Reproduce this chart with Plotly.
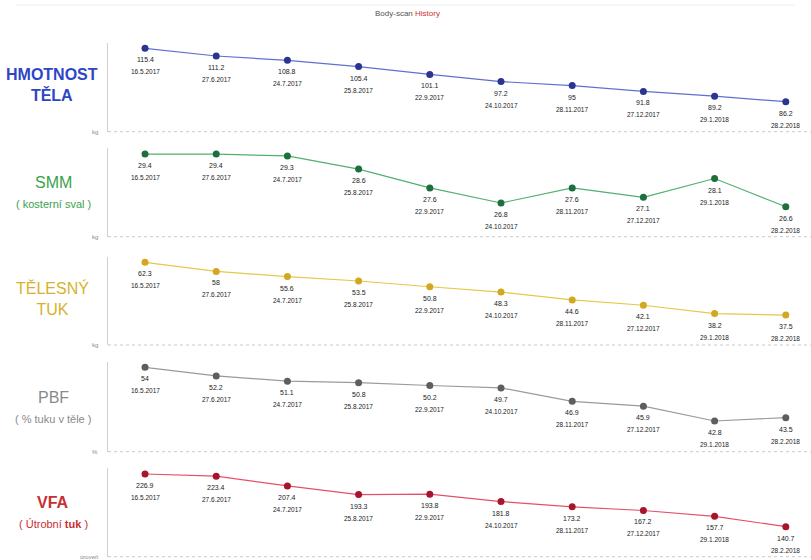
import plotly.graph_objects as go

dates = ["16.5.2017", "27.6.2017", "24.7.2017", "25.8.2017", "22.9.2017",
         "24.10.2017", "28.11.2017", "27.12.2017", "29.1.2018", "28.2.2018"]

weight = [115.4, 111.2, 108.8, 105.4, 101.1, 97.2, 95, 91.8, 89.2, 86.2]
smm = [29.4, 29.4, 29.3, 28.6, 27.6, 26.8, 27.6, 27.1, 28.1, 26.6]
fat = [62.3, 58, 55.6, 53.5, 50.8, 48.3, 44.6, 42.1, 38.2, 37.5]
pbf = [54, 52.2, 51.1, 50.8, 50.2, 49.7, 46.9, 45.9, 42.8, 43.5]
vfa = [226.9, 223.4, 207.4, 193.3, 193.8, 181.8, 173.2, 167.2, 157.7, 140.7]

series = [weight, smm, fat, pbf, vfa]
units = ["kg", "kg", "kg", "%", "úroveň"]
titles = [("<b>HMOTNOST<br>TĚLA</b>", None),
          ("SMM", "( kosterní sval )"),
          ("TĚLESNÝ<br>TUK", None),
          ("PBF", "( % tuku v těle )"),
          ("<b>VFA</b>", "( Útrobní <b>tuk</b> )")]
marker_colors = ["#2b3590", "#1f6e3e", "#d2a820", "#5e5e5e", "#a8142a"]
line_colors = ["#6070d0", "#50b070", "#e6c84a", "#9a9a9a", "#e4506a"]
title_colors = ["#2f45c8", "#3aa24c", "#d6b22c", "#8a8a8a", "#c83030"]

W, H = 811, 560
baselines = [131.7, 236.7, 345, 451.7, 556.7]
tops = [43, 148, 257, 362, 468]
yranges = [[69.8, 118.3], [25.01, 29.72], [23.4, 64.8], [36.4, 55.1], [91.6, 236.7]]
xleft = 108

fig = go.Figure()
layout = dict(width=W, height=H, margin=dict(l=0, r=0, t=0, b=0),
              plot_bgcolor="white", paper_bgcolor="white", showlegend=False,
              font=dict(family="Liberation Sans, Arial, sans-serif"))
annotations = []
shapes = []
idx = list(range(len(dates)))

for k, vals in enumerate(series):
    n = "" if k == 0 else str(k + 1)
    xa, ya = "x" + n, "y" + n
    fig.add_trace(go.Scatter(
        x=idx, y=vals, xaxis=xa, yaxis=ya, mode="lines+markers",
        line=dict(color=line_colors[k], width=1.2),
        marker=dict(color=marker_colors[k], size=7),
        hoverinfo="skip"))
    dom = [1 - baselines[k] / H, 1 - tops[k] / H]
    layout["xaxis" + n] = dict(domain=[xleft / W, 1], range=[-0.52, 9.354],
                              anchor=ya, showgrid=False, zeroline=False,
                              showticklabels=False, ticks="", showline=False)
    layout["yaxis" + n] = dict(domain=dom, range=yranges[k], anchor=xa,
                              showgrid=False, zeroline=False, showticklabels=False,
                              ticks="", showline=True, linecolor="#d0d0d0", linewidth=1)
    shapes.append(dict(type="line", xref="paper", x0=xleft / W, x1=1,
                       yref=ya + " domain", y0=0, y1=0,
                       line=dict(color="#c8c8c8", width=1, dash="dot")))
    for i, v in enumerate(vals):
        annotations.append(dict(x=i, y=v, xref=xa, yref=ya, text=f"{v:g}",
                                showarrow=False, yanchor="top", yshift=-6,
                                font=dict(size=7, color="#222222")))
        annotations.append(dict(x=i, y=v, xref=xa, yref=ya, text=dates[i],
                                showarrow=False, yanchor="top", yshift=-18,
                                font=dict(size=6.5, color="#222222")))
    annotations.append(dict(x=(xleft - 8) / W, y=dom[0], xref="paper", yref="paper",
                            text=units[k], showarrow=False, xanchor="right",
                            yanchor="middle", font=dict(size=6, color="#888888")))
    main, sub = titles[k]
    mid = (dom[0] + dom[1]) / 2 + 0.005
    if sub is None:
        annotations.append(dict(x=52 / W, y=mid, xref="paper", yref="paper",
                                text=main, showarrow=False, xanchor="center",
                                yanchor="middle",
                                font=dict(size=16, color=title_colors[k])))
    else:
        annotations.append(dict(x=53 / W, y=mid + 0.012, xref="paper", yref="paper",
                                text=main, showarrow=False, xanchor="center",
                                yanchor="middle",
                                font=dict(size=16, color=title_colors[k])))
        annotations.append(dict(x=53 / W, y=mid - 0.012, xref="paper", yref="paper",
                                text=sub, showarrow=False, xanchor="center",
                                yanchor="top",
                                font=dict(size=11, color=title_colors[k])))

annotations.append(dict(x=407 / W, y=1 - 13 / H, xref="paper", yref="paper",
                        text="<span style='color:#555'>Body-scan</span> "
                             "<span style='color:#d03030'>History</span>",
                        showarrow=False, yanchor="middle", font=dict(size=8)))
shapes.append(dict(type="line", xref="paper", yref="paper", x0=0.02, x1=0.98,
                   y0=1 - 5 / H, y1=1 - 5 / H,
                   line=dict(color="#eeeeee", width=1)))

layout["annotations"] = annotations
layout["shapes"] = shapes
fig.update_layout(**layout)
fig.write_html("out.html",
               config={"displayModeBar": False, "staticPlot": True},
               post_script="document.body.style.margin='0';"
                           "document.body.style.padding='0';"
                           "document.body.style.overflow='hidden';")
